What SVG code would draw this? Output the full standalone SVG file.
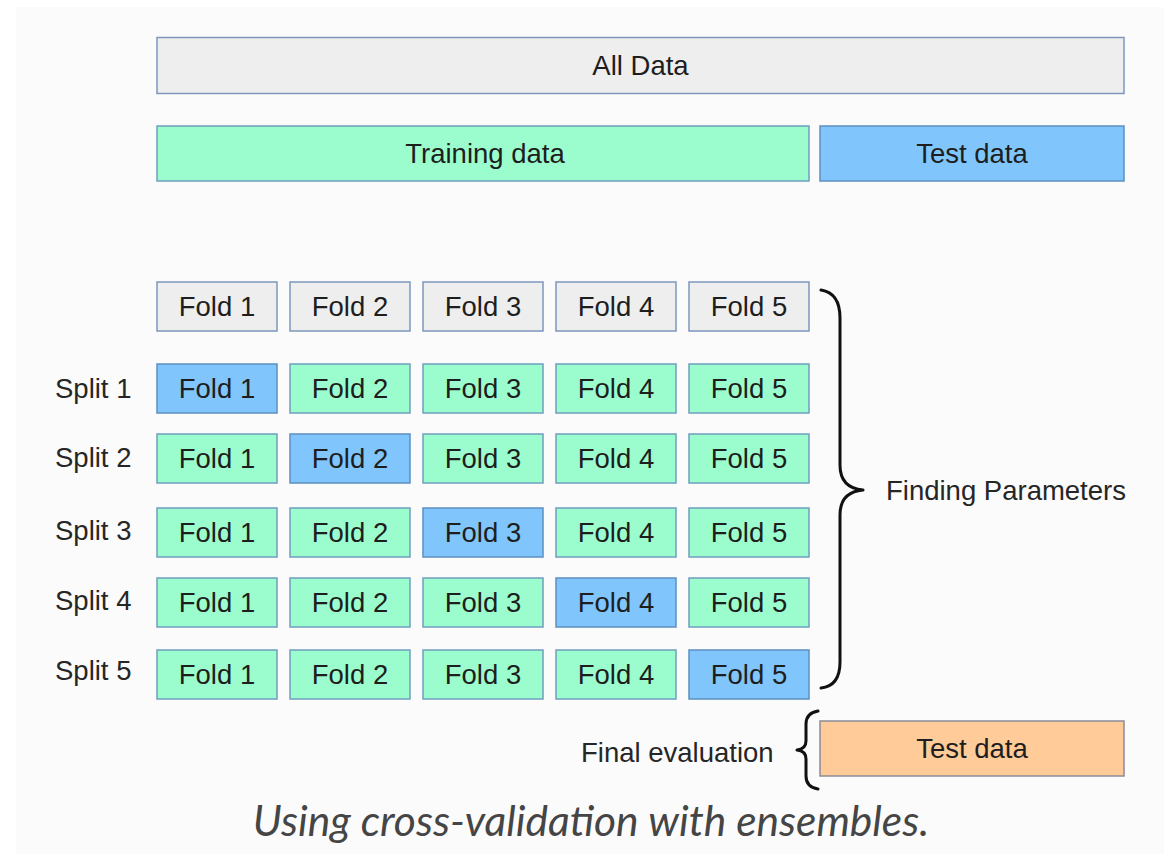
<svg xmlns="http://www.w3.org/2000/svg" width="1164" height="854" viewBox="0 0 1164 854">
  <defs>
    <style>
      .box { stroke-width: 1.5; }
      .gray { fill: #eeeeee; stroke: #7d97bd; }
      .green { fill: #9bfdcd; stroke: #6f9fbf; }
      .blue { fill: #80c6fc; stroke: #5e8fc0; }
      .orange { fill: #ffcb99; stroke: #8a8c99; }
      .lbl { font-family: "Liberation Sans", Arial, sans-serif; font-size: 27.5px; fill: #1e1e1e; text-anchor: middle; }
      .side { font-family: "Liberation Sans", Arial, sans-serif; font-size: 27.5px; fill: #262626; }
      .brace { fill: none; stroke: #111111; stroke-width: 3; stroke-linecap: round; stroke-linejoin: round; }
      .caption { font-family: Lato, "Open Sans", sans-serif; font-style: italic; font-size: 42.5px; fill: #454545; }
    </style>
    <clipPath id="clipRight">
      <rect x="0" y="0" width="1126" height="854"/>
    </clipPath>
  </defs>

  <!-- page background -->
  <rect x="0" y="0" width="1164" height="854" fill="#ffffff"/>
  <rect x="16" y="7" width="1148" height="847" fill="#fbfbfb"/>

  <!-- top bars -->
  <g id="all-data">
    <rect class="box gray" x="157" y="37.5" width="967" height="56"/>
    <text class="lbl" x="640.5" y="75">All Data</text>
  </g>
  <g id="training-data">
    <rect class="box green" x="157" y="126" width="652" height="55"/>
    <text class="lbl" x="485" y="163">Training data</text>
  </g>
  <g id="test-data">
    <rect class="box blue" x="820" y="126" width="304" height="55"/>
    <text class="lbl" x="972" y="163">Test data</text>
  </g>

  <!-- fold header row -->
  <g id="folds-header">
    <rect class="box gray" x="157" y="282" width="120" height="49"/>
    <text class="lbl" x="217" y="316">Fold 1</text>
    <rect class="box gray" x="290" y="282" width="120" height="49"/>
    <text class="lbl" x="350" y="316">Fold 2</text>
    <rect class="box gray" x="423" y="282" width="120" height="49"/>
    <text class="lbl" x="483" y="316">Fold 3</text>
    <rect class="box gray" x="556" y="282" width="120" height="49"/>
    <text class="lbl" x="616" y="316">Fold 4</text>
    <rect class="box gray" x="689" y="282" width="120" height="49"/>
    <text class="lbl" x="749" y="316">Fold 5</text>
  </g>

  <!-- split 1 -->
  <g id="split-1">
    <text class="side" x="55" y="398">Split 1</text>
    <rect class="box blue" x="157" y="364" width="120" height="49"/>
    <text class="lbl" x="217" y="398">Fold 1</text>
    <rect class="box green" x="290" y="364" width="120" height="49"/>
    <text class="lbl" x="350" y="398">Fold 2</text>
    <rect class="box green" x="423" y="364" width="120" height="49"/>
    <text class="lbl" x="483" y="398">Fold 3</text>
    <rect class="box green" x="556" y="364" width="120" height="49"/>
    <text class="lbl" x="616" y="398">Fold 4</text>
    <rect class="box green" x="689" y="364" width="120" height="49"/>
    <text class="lbl" x="749" y="398">Fold 5</text>
  </g>

  <!-- split 2 -->
  <g id="split-2">
    <text class="side" x="55" y="467">Split 2</text>
    <rect class="box green" x="157" y="434" width="120" height="49"/>
    <text class="lbl" x="217" y="468">Fold 1</text>
    <rect class="box blue" x="290" y="434" width="120" height="49"/>
    <text class="lbl" x="350" y="468">Fold 2</text>
    <rect class="box green" x="423" y="434" width="120" height="49"/>
    <text class="lbl" x="483" y="468">Fold 3</text>
    <rect class="box green" x="556" y="434" width="120" height="49"/>
    <text class="lbl" x="616" y="468">Fold 4</text>
    <rect class="box green" x="689" y="434" width="120" height="49"/>
    <text class="lbl" x="749" y="468">Fold 5</text>
  </g>

  <!-- split 3 -->
  <g id="split-3">
    <text class="side" x="55" y="540">Split 3</text>
    <rect class="box green" x="157" y="508" width="120" height="49"/>
    <text class="lbl" x="217" y="542">Fold 1</text>
    <rect class="box green" x="290" y="508" width="120" height="49"/>
    <text class="lbl" x="350" y="542">Fold 2</text>
    <rect class="box blue" x="423" y="508" width="120" height="49"/>
    <text class="lbl" x="483" y="542">Fold 3</text>
    <rect class="box green" x="556" y="508" width="120" height="49"/>
    <text class="lbl" x="616" y="542">Fold 4</text>
    <rect class="box green" x="689" y="508" width="120" height="49"/>
    <text class="lbl" x="749" y="542">Fold 5</text>
  </g>

  <!-- split 4 -->
  <g id="split-4">
    <text class="side" x="55" y="610">Split 4</text>
    <rect class="box green" x="157" y="578" width="120" height="49"/>
    <text class="lbl" x="217" y="612">Fold 1</text>
    <rect class="box green" x="290" y="578" width="120" height="49"/>
    <text class="lbl" x="350" y="612">Fold 2</text>
    <rect class="box green" x="423" y="578" width="120" height="49"/>
    <text class="lbl" x="483" y="612">Fold 3</text>
    <rect class="box blue" x="556" y="578" width="120" height="49"/>
    <text class="lbl" x="616" y="612">Fold 4</text>
    <rect class="box green" x="689" y="578" width="120" height="49"/>
    <text class="lbl" x="749" y="612">Fold 5</text>
  </g>

  <!-- split 5 -->
  <g id="split-5">
    <text class="side" x="55" y="680">Split 5</text>
    <rect class="box green" x="157" y="650" width="120" height="49"/>
    <text class="lbl" x="217" y="684">Fold 1</text>
    <rect class="box green" x="290" y="650" width="120" height="49"/>
    <text class="lbl" x="350" y="684">Fold 2</text>
    <rect class="box green" x="423" y="650" width="120" height="49"/>
    <text class="lbl" x="483" y="684">Fold 3</text>
    <rect class="box green" x="556" y="650" width="120" height="49"/>
    <text class="lbl" x="616" y="684">Fold 4</text>
    <rect class="box blue" x="689" y="650" width="120" height="49"/>
    <text class="lbl" x="749" y="684">Fold 5</text>
  </g>

  <!-- braces -->
  <g id="connectors">
    <path class="brace" d="M821 290 Q840 293 840 318 L840 465 Q840 488 863 490 Q840 492 840 515 L840 662 Q840 686 821 688"/>
    <path class="brace" d="M818 711 Q806 713 806 724 L806 741 Q806 749 797 750 Q806 751 806 759 L806 776 Q806 787 818 789"/>
  </g>

  <g id="finding-parameters" clip-path="url(#clipRight)">
    <text class="side" x="886" y="500">Finding Parameters</text>
  </g>

  <g id="final-evaluation">
    <text class="side" x="581" y="762">Final evaluation</text>
  </g>

  <g id="test-data-final">
    <rect class="box orange" x="820" y="721" width="304" height="55"/>
    <text class="lbl" x="972" y="758">Test data</text>
  </g>

  <g id="caption">
    <text class="caption" x="591" y="836" text-anchor="middle">Using cross-validation with ensembles.</text>
  </g>
</svg>
